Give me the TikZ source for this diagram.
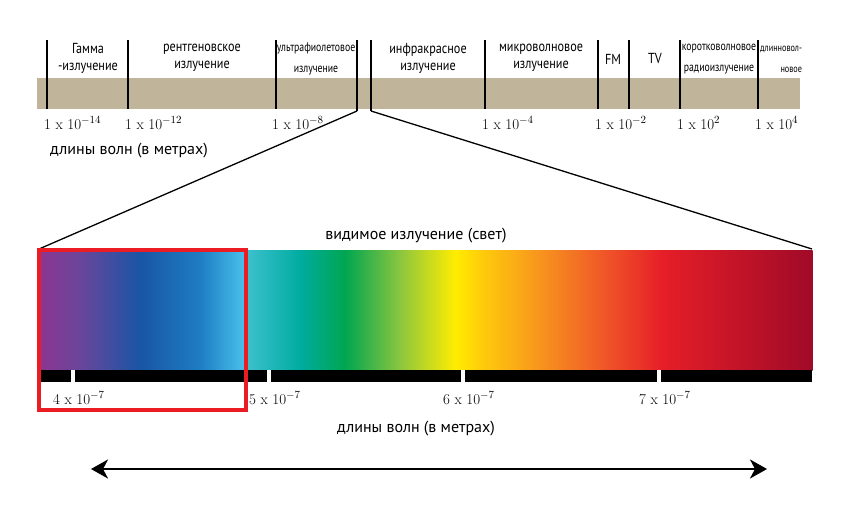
\documentclass[tikz,border=0pt]{standalone}
\usepackage{fontspec}
\usepackage{tikz}
\usetikzlibrary{arrows.meta}
\newfontfamily\condfont[FakeStretch=0.84]{PT Sans}
\newfontfamily\narrowfont[FakeStretch=0.78]{PT Sans}
\newfontfamily\plainsans{PT Sans}
\definecolor{band}{RGB}{192,180,155}
\definecolor{redbox}{RGB}{235,28,36}
\definecolor{sp1}{RGB}{142,52,145}
\definecolor{sp2}{RGB}{105,70,155}
\definecolor{sp3}{RGB}{25,85,165}
\definecolor{sp4}{RGB}{30,125,195}
\definecolor{sp5}{RGB}{75,198,238}
\definecolor{sp6}{RGB}{60,192,205}
\definecolor{sp7}{RGB}{0,172,160}
\definecolor{sp8}{RGB}{0,166,80}
\definecolor{sp9}{RGB}{140,198,63}
\definecolor{sp10}{RGB}{255,237,0}
\definecolor{sp11}{RGB}{255,205,10}
\definecolor{sp12}{RGB}{247,148,30}
\definecolor{sp13}{RGB}{240,90,40}
\definecolor{sp14}{RGB}{230,30,40}
\definecolor{sp15}{RGB}{160,10,40}

\begin{document}
\begin{tikzpicture}[x=1pt,y=-1pt,
	bandlab/.style={font=\condfont\fontsize{14.5}{17}\selectfont,align=center,inner sep=0pt},
	smalllab/.style={font=\narrowfont\fontsize{12.5}{21}\selectfont,align=center,inner sep=0pt},
	tinylab/.style={font=\narrowfont\fontsize{10.5}{21}\selectfont,align=right,inner sep=0pt},
	numlab/.style={font=\fontsize{15}{17}\selectfont,anchor=base west,inner sep=0pt},
	caption/.style={font=\plainsans\fontsize{16}{18}\selectfont,inner sep=0pt},
	divider/.style={line width=1.5pt},
	zoomline/.style={line width=1.3pt}]
	\useasboundingbox (0,0) rectangle (853,504);
	% upper band
	\fill[band] (37,78) rectangle (800,109);
	\foreach \d in {47,128,276,485,598,629,680,758}
		\draw[divider] (\d,40) -- (\d,109);
	\coordinate (uvend) at (357,111);
	\coordinate (irend) at (371,111);
	\draw[divider] (357,40) -- (uvend);
	\draw[divider] (371,40) -- (irend);
	\node[bandlab] (gamma) at (88,58) {Гамма\\-излучение};
	\node[bandlab] (xray) at (202,58) {рентгеновское\\излучение};
	\node[smalllab] (uv) at (316,59) {ультрафиолетовое\\излучение};
	\node[bandlab] (ir) at (428,58) {инфракрасное\\излучение};
	\node[bandlab] (micro) at (541,58) {микроволновое\\излучение};
	\node[bandlab] (fm) at (613,59) {FM};
	\node[bandlab] (tv) at (655,59) {TV};
	\node[smalllab] (short) at (719,59) {коротковолновое\\радиоизлучение};
	\node[tinylab] (long) at (781,59) {длинновол-\\новое};
	\foreach \x/\e [count=\i] in {44/-14,125/-12,272/-8,482/-4,595/-2,677/2,755/4}
		\node[numlab] (top\i) at (\x,129) {1 x 10$^{\e}$};
	\node[caption,anchor=west] (unitstop) at (50,151) {длины волн (в метрах)};
	% visible spectrum
	\foreach \xa/\ca/\xb/\cb in {37/sp1/80/sp2,80/sp2/140/sp3,140/sp3/200/sp4,200/sp4/247/sp5,
		247/sp6/300/sp7,300/sp7/345/sp8,345/sp8/400/sp9,400/sp9/455/sp10,455/sp10/480/sp11,
		480/sp11/540/sp12,540/sp12/600/sp13,600/sp13/662/sp14,662/sp14/812/sp15}
		\shade[left color=\ca,right color=\cb] (\xa,250) rectangle (\xb+0.7,370);
	\coordinate (specleft) at (39,249);
	\coordinate (specright) at (812,249);
	\draw[zoomline] (uvend) -- (specleft);
	\draw[zoomline] (irend) -- (specright);
	\fill (37,370) rectangle (812,382);
	\foreach \t/\n in {73/4,269/5,463/6,659/7}{
		\fill[white] (\t-1.6,370) rectangle (\t+1.6,382);
		\node[numlab] (tick\n) at (\t-20,404) {\n\ x 10$^{-7}$};
	}
	\draw[redbox,line width=4pt] (39,250) rectangle (246,410);
	\node[caption] (visible) at (416,236) {видимое излучение (свет)};
	\node[caption] (unitsbottom) at (416,429) {длины волн (в метрах)};
	\coordinate (arrowl) at (91,469);
	\coordinate (arrowr) at (767,469);
	\draw[line width=2.4pt,{Stealth[length=17pt,width=19pt,inset=5pt]}-{Stealth[length=17pt,width=19pt,inset=5pt]}] (arrowl) -- (arrowr);
\end{tikzpicture}
\end{document}
